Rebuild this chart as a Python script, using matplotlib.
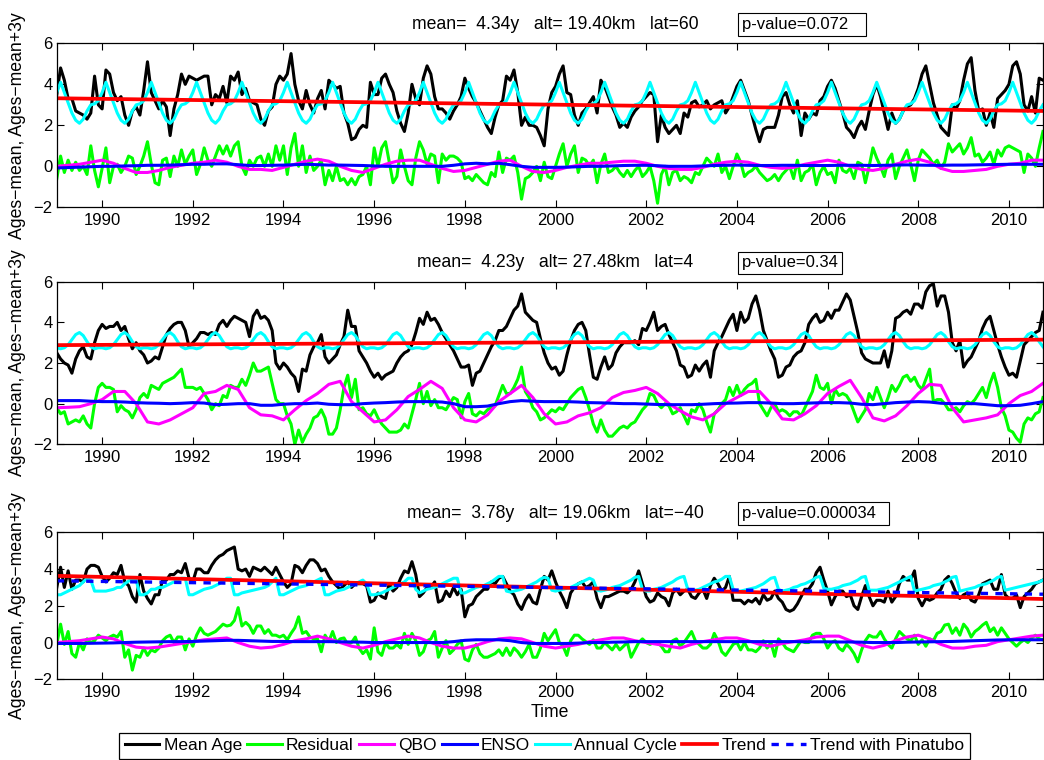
"""Mean age decomposition at three stations: mean age, residual, QBO, ENSO,
annual cycle and trend, 1989-2010. Values read off the reference figure.
"""

import numpy as np
import matplotlib
matplotlib.use("Agg")
import matplotlib.pyplot as plt

plt.rcParams["font.family"] = ["Liberation Sans", "DejaVu Sans"]
plt.rcParams["font.size"] = 12

START = 1989.0
END = 2010.75
YTICKS = [-2, 0, 2, 4, 6]
XTICKS = list(range(1990, 2011, 2))
LABELS = ["Mean Age", "Residual", "QBO", "ENSO", "Annual Cycle", "Trend", "Trend with Pinatubo"]

TITLES = [
    "mean=  4.34y   alt= 19.40km   lat=60",
    "mean=  4.23y   alt= 27.48km   lat=4",
    "mean=  3.78y   alt= 19.06km   lat=\u221240",
]
# trailing spaces mimic the fixed-width annotation boxes of the original
PVALUES = ["p-value=0.072   ", "p-value=0.34", "p-value=0.000034  "]

# ---- lat=60 (monthly rows, Jan..Dec) ----
AGE_LAT60 = [
    [3.5, 4.8, 4.2, 3.3, 3.3, 2.7, 2.6, 2.5, 2.3, 2.6, 4.4, 3.0],
    [2.8, 4.7, 4.5, 3.6, 3.2, 3.4, 2.5, 2.0, 2.7, 2.9, 2.5, 3.7],
    [5.1, 3.6, 3.2, 2.8, 3.2, 2.9, 1.5, 2.8, 3.5, 4.5, 4.0, 4.4],
    [4.3, 4.2, 4.3, 4.4, 4.4, 3.0, 3.5, 3.3, 3.9, 3.1, 4.4, 4.2],
    [4.6, 3.5, 3.8, 3.2, 3.1, 3.0, 2.3, 2.0, 2.7, 2.9, 4.0, 4.4],
    [4.2, 4.5, 5.5, 4.0, 3.2, 2.8, 3.7, 3.0, 2.6, 3.3, 3.7, 2.8],
    [4.2, 4.0, 3.8, 3.9, 2.6, 2.1, 1.3, 1.4, 1.8, 2.0, 1.9, 4.1],
    [3.5, 3.5, 4.3, 4.5, 4.0, 3.6, 2.7, 2.1, 1.7, 2.6, 4.0, 3.3],
    [3.0, 4.3, 4.9, 4.5, 3.4, 2.8, 2.8, 2.6, 2.3, 2.7, 3.0, 3.4],
    [4.3, 3.8, 3.4, 3.1, 2.7, 2.3, 1.9, 1.6, 2.4, 3.0, 3.2, 4.4],
    [4.2, 4.7, 3.6, 2.0, 2.4, 2.0, 2.0, 1.9, 1.5, 1.0, 2.8, 3.6],
    [3.9, 4.5, 4.9, 3.6, 3.5, 2.5, 2.0, 2.6, 2.8, 3.1, 3.4, 2.6],
    [4.2, 3.9, 3.4, 2.9, 2.5, 1.9, 2.1, 1.9, 2.4, 2.7, 2.9, 3.2],
    [3.4, 3.6, 3.5, 1.2, 2.5, 1.9, 1.6, 1.8, 2.0, 1.6, 2.6, 2.4],
    [3.1, 3.2, 2.9, 3.0, 3.2, 2.8, 3.0, 3.1, 3.2, 2.6, 2.9, 3.4],
    [3.9, 4.2, 3.7, 3.2, 2.5, 1.8, 1.2, 1.8, 1.9, 1.9, 1.9, 2.5],
    [3.4, 3.6, 3.0, 2.6, 3.2, 1.5, 2.6, 2.3, 2.6, 2.5, 3.2, 3.4],
    [3.9, 4.2, 3.8, 3.2, 2.6, 1.9, 1.7, 1.4, 1.9, 2.2, 1.8, 2.7],
    [3.5, 4.0, 3.4, 2.6, 1.8, 2.6, 2.1, 2.3, 2.7, 2.9, 3.0, 3.3],
    [3.8, 4.5, 4.9, 4.0, 3.1, 2.5, 1.9, 1.7, 1.5, 3.0, 2.8, 3.2],
    [4.2, 5.0, 5.3, 3.7, 2.7, 2.8, 2.0, 2.6, 1.9, 3.3, 3.5, 3.7],
    [4.0, 4.9, 5.1, 4.5, 3.0, 2.7, 3.4, 2.6, 4.3, 4.2],
]
RES_LAT60 = [
    [-0.6, 0.5, -0.3, 0.3, -0.2, 0.2, -0.2, 0.0, -0.4, 1.0, -0.2, -1.0],
    [-0.1, 0.9, -0.8, 0.0, 0.1, -0.3, 0.0, 0.5, 0.4, -0.4, 0.0, 0.5],
    [1.2, 0.1, -0.8, -0.9, 0.3, 0.4, -0.5, 0.5, 0.0, 0.8, 0.1, 0.5],
    [0.8, -0.4, 0.1, 0.9, 0.3, 0.0, 0.5, 1.0, 0.6, 1.0, 0.5, 1.0],
    [1.2, 0.0, -0.4, 0.3, 0.0, 0.4, 0.5, 0.0, 0.6, 0.0, 1.0, 0.3],
    [1.0, -0.4, 0.9, 1.6, 0.0, 1.0, -0.3, 0.5, -0.2, 0.0, 0.3, -0.9],
    [-0.2, -0.7, 0.0, -0.7, -0.6, -0.9, -0.6, -0.9, -0.5, -0.4, 0.0, -0.9],
    [0.9, 0.0, 0.9, 1.2, 0.2, -0.8, -0.5, 0.8, 0.0, -0.7, -0.9, 0.4],
    [1.2, 0.8, 0.1, 0.6, 0.5, -0.8, 0.6, 0.3, 0.5, 0.5, 0.4, 0.2],
    [-0.6, -0.5, -0.7, -0.4, -0.6, -0.8, -0.9, -0.3, -0.5, 0.7, -0.3, 0.4],
    [0.3, 0.5, -0.3, -1.6, -0.6, -0.5, -0.3, 0.0, -0.7, 0.2, -0.5, -0.6],
    [0.0, 0.6, 1.1, 0.0, 0.6, 1.0, -0.3, 0.4, 0.3, 0.0, 0.3, -0.8],
    [0.1, 0.6, -0.3, -0.2, 0.0, -0.3, -0.5, -0.2, -0.5, -0.2, 0.0, -0.5],
    [-0.3, 0.0, -0.7, -1.8, -0.4, 0.0, -0.9, -0.3, -0.2, -0.7, -0.5, -0.6],
    [-0.8, -0.3, -0.4, 0.0, 0.4, 0.2, 0.0, 0.6, -0.3, 0.0, -0.6, 0.0],
    [0.6, 0.2, -0.5, -0.3, -0.2, 0.0, -0.3, -0.5, -0.7, -0.6, -0.4, -0.7],
    [-0.4, -0.2, 0.0, -0.6, 0.3, -0.7, -0.3, -0.2, 0.1, -0.9, -0.3, 0.0],
    [-0.4, -0.3, -0.8, 0.3, -0.2, -0.3, -0.1, -0.6, 0.2, 0.1, -0.8, 0.0],
    [0.9, 0.4, 0.0, -0.5, 0.3, 0.6, -0.6, 0.0, 0.4, 0.8, 0.1, -0.7],
    [0.3, 0.8, 0.6, 0.4, 0.1, 0.3, -0.1, 0.2, 1.1, 0.7, 0.9, 1.1],
    [0.6, 0.9, 1.4, 0.5, 0.6, 0.2, 0.4, 0.7, 0.1, 0.8, 0.5, 0.9],
    [1.0, 0.9, 0.8, 0.7, -0.3, 0.6, 0.4, 0.0, 0.9, 1.7],
]
# quarterly (Jan, Apr, Jul, Oct)
QBO_LAT60 = [
    0.0, 0.05, 0.1, 0.2, 0.3, 0.15, -0.1, -0.3, -0.3, -0.2, -0.05, 0.05,
    0.15, 0.2, 0.3, 0.2, 0.0, -0.15, -0.15, -0.2, -0.05, 0.1, 0.25, 0.35,
    0.25, 0.0, -0.2, -0.3, -0.1, 0.1, 0.25, 0.3, 0.3, 0.1, -0.1, -0.25,
    -0.2, -0.05, 0.1, 0.25, 0.3, 0.0, -0.25, -0.3, -0.2, -0.05, 0.05, 0.15,
    0.15, 0.2, 0.25, 0.25, 0.15, 0.0, -0.1, -0.15, -0.15, -0.05, 0.1, 0.2,
    0.25, 0.2, 0.05, -0.05, -0.1, -0.05, 0.1, 0.2, 0.3, 0.2, 0.0, -0.15,
    -0.2, -0.1, 0.1, 0.25, 0.35, 0.2, -0.1, -0.25, -0.25, -0.2, -0.15, 0.0,
    0.1, 0.15, 0.3, 0.3,
]
ENSO_LAT60 = [
    -0.08, -0.06, -0.04, -0.02, 0.0, 0.0, 0.02, 0.03, 0.05, 0.05, 0.06, 0.08,
    0.1, 0.1, 0.12, 0.12, 0.08, 0.04, 0.04, 0.05, 0.06, 0.08, 0.1, 0.08,
    0.06, 0.06, 0.05, 0.04, 0.02, 0.0, 0.0, 0.0, 0.0, 0.0, 0.0, 0.05,
    0.12, 0.15, 0.12, 0.15, 0.08, 0.0, -0.05, -0.05, -0.05, -0.04, -0.02, 0.0,
    0.0, 0.02, 0.04, 0.05, 0.05, 0.03, 0.0, 0.0, 0.0, 0.02, 0.04, 0.05,
    0.06, 0.05, 0.04, 0.04, 0.05, 0.05, 0.04, 0.04, 0.04, 0.05, 0.05, 0.05,
    0.04, 0.05, 0.06, 0.07, 0.06, 0.05, 0.05, 0.06, 0.06, 0.07, 0.08, 0.09,
    0.1, 0.1, 0.1, 0.1,
]
CYCLE_LAT60 = [3.6, 4.1, 3.6, 3.1, 2.6, 2.25, 2.1, 2.3, 2.7, 3.0, 3.05, 3.2]
TREND_LAT60 = [3.32, 2.70]

# ---- lat=4 ----
AGE_LAT4 = [
    [2.5, 2.2, 2.0, 1.9, 1.5, 2.2, 2.6, 2.8, 2.3, 2.2, 3.0, 3.6],
    [3.9, 3.7, 3.8, 3.8, 4.0, 3.6, 3.8, 3.2, 2.7, 3.0, 2.6, 2.4],
    [2.0, 2.1, 2.3, 2.2, 2.8, 3.4, 3.7, 3.9, 4.0, 4.0, 3.6, 2.8],
    [3.0, 3.2, 3.5, 3.5, 3.4, 3.5, 3.4, 3.9, 4.1, 3.8, 4.1, 4.3],
    [4.2, 4.1, 4.0, 3.3, 4.3, 4.6, 4.2, 4.3, 4.1, 3.6, 2.0, 1.7],
    [2.0, 1.8, 1.5, 1.3, 0.6, 1.7, 1.6, 2.4, 2.8, 3.0, 3.4, 2.3],
    [2.0, 2.2, 2.4, 2.9, 3.3, 4.6, 3.8, 3.8, 2.6, 2.3, 2.0, 1.6],
    [1.3, 1.5, 1.2, 1.4, 1.5, 1.6, 2.0, 2.3, 2.5, 2.6, 2.9, 3.5],
    [4.2, 3.9, 4.5, 4.1, 4.2, 3.9, 3.5, 3.2, 2.9, 2.6, 2.2, 1.8],
    [1.8, 1.9, 0.9, 1.5, 1.6, 2.0, 2.4, 2.8, 3.1, 3.6, 3.6, 3.8],
    [4.2, 4.6, 4.8, 5.4, 4.5, 4.3, 4.1, 4.0, 3.2, 2.5, 2.0, 1.7],
    [1.8, 1.4, 1.6, 2.4, 3.1, 3.6, 3.9, 4.0, 3.6, 2.4, 1.3, 1.2],
    [1.8, 2.3, 1.7, 1.9, 2.5, 2.8, 3.0, 3.0, 3.0, 3.1, 2.9, 3.7],
    [3.6, 4.0, 4.5, 3.6, 3.8, 3.9, 3.4, 3.0, 2.6, 1.9, 1.8, 1.3],
    [1.4, 1.9, 1.6, 1.9, 2.1, 1.3, 2.6, 3.0, 3.3, 3.7, 4.1, 4.4],
    [3.6, 4.5, 4.0, 4.2, 4.9, 5.3, 4.6, 3.6, 3.1, 2.6, 2.2, 1.3],
    [1.4, 1.8, 1.9, 2.3, 2.5, 2.6, 3.0, 3.9, 4.2, 4.4, 4.0, 4.1],
    [4.5, 4.2, 4.6, 4.6, 5.0, 5.4, 5.1, 4.3, 3.5, 2.5, 2.2, 2.1],
    [2.0, 2.0, 2.0, 2.6, 1.8, 2.6, 4.2, 4.3, 4.5, 4.6, 4.4, 4.9],
    [4.9, 4.7, 5.5, 5.8, 5.9, 4.8, 5.3, 5.3, 4.5, 3.0, 2.6, 3.1],
    [1.8, 2.1, 2.3, 2.7, 3.1, 3.7, 4.1, 4.3, 3.6, 2.9, 2.3, 1.8],
    [1.4, 1.5, 1.3, 2.1, 2.9, 3.1, 3.3, 3.5, 3.6, 4.5],
]
RES_LAT4 = [
    [-0.2, -0.5, -0.4, -1.0, -0.9, -0.8, -0.9, -0.6, -1.0, -1.2, 0.0, 0.8],
    [1.0, 0.8, 0.8, 0.7, -0.4, -0.1, -0.3, -0.4, -0.7, -0.3, 0.3, 0.5],
    [0.3, 0.9, 0.8, 0.7, 1.0, 1.1, 1.2, 1.3, 1.5, 1.7, 0.8, 0.8],
    [0.8, 0.7, 0.8, 0.5, 0.2, -0.3, 0.0, -0.1, 0.4, 0.3, 0.9, 0.8],
    [0.8, 1.2, 0.9, 1.4, 2.0, 1.6, 1.6, 1.7, 1.8, 1.0, 0.2, 0.0],
    [0.0, -0.6, -1.0, -2.0, -1.3, -1.9, -1.5, -1.2, -0.7, -0.6, -0.3, -0.7],
    [-1.5, -1.5, -1.2, -0.3, 0.8, 1.4, 0.3, 1.2, -0.3, -0.2, -0.5, -0.6],
    [-0.3, -0.7, -1.0, -1.2, -1.4, -1.4, -1.4, -1.3, -1.0, -1.2, -0.5, 0.2],
    [1.0, 0.0, 0.6, -0.1, 0.2, -0.2, -0.2, -0.3, 0.0, 0.3, 0.2, -0.7],
    [0.1, 0.5, -0.5, -0.6, -0.4, -0.5, -0.3, -0.2, -0.1, 0.4, 0.9, 0.5],
    [0.5, 0.8, 1.2, 1.8, 0.6, 0.3, -0.2, -0.4, -0.8, -0.7, -0.5, -0.3],
    [-0.4, -0.2, -0.3, 0.0, 0.3, 0.5, 0.7, 0.8, 0.3, -0.3, -1.0, -1.4],
    [-0.8, -1.3, -1.6, -1.6, -1.4, -1.2, -1.1, -1.2, -1.0, -0.9, -0.6, -0.3],
    [-0.1, 0.5, 0.4, 0.0, -0.2, 0.0, -0.1, -0.5, -0.4, -0.2, -0.6, -1.0],
    [-0.3, -0.4, 0.0, -0.3, -0.9, -1.4, -0.5, -0.3, 0.0, 0.2, 0.8, 0.4],
    [0.9, 0.4, 0.7, 0.9, 1.0, 1.2, 0.0, -0.3, -0.6, -0.2, 0.0, -0.4],
    [-0.3, -0.4, -0.6, -0.4, -0.4, -0.6, -0.2, 0.2, 0.6, 1.4, 0.8, 0.7],
    [1.0, 0.0, 0.7, 0.4, 0.5, 0.4, 0.1, -0.4, -0.9, -0.6, -0.3, 0.5],
    [0.2, 0.8, 0.3, -0.2, 0.3, 0.9, 0.6, 0.9, 1.3, 1.4, 1.1, 1.3],
    [0.9, 0.7, 1.2, 1.7, 0.1, 0.2, 0.2, 0.0, -0.3, -0.3, -0.2, -0.4],
    [-0.1, 0.1, 0.0, 0.2, 0.5, 0.8, 0.3, 1.0, 1.5, 0.8, -0.2, -0.6],
    [-1.3, -1.4, -1.7, -1.9, -1.0, -0.7, -0.8, -0.5, -0.4, 0.3],
]
QBO_LAT4 = [
    -0.2, -0.18, -0.15, 0.0, 0.2, 0.6, 0.6, 0.0, -0.9, -1.0, -0.8, -0.5,
    -0.2, 0.5, 0.6, 0.9, 0.7, -0.2, -0.55, -0.6, -0.8, -0.3, 0.15, 0.5,
    0.95, 1.1, 0.1, -0.4, -0.9, -0.8, -0.3, 0.35, 0.7, 1.1, 0.75, -0.2,
    -0.8, -0.9, -0.55, 0.1, 0.5, 0.9, 0.3, -0.5, -1.0, -0.9, -0.6, -0.45,
    -0.2, 0.3, 0.55, 0.65, 0.8, 0.5, 0.0, -0.35, -0.65, -0.8, -0.5, 0.0,
    0.3, 0.6, 0.6, 0.0, -0.75, -0.8, -0.5, -0.1, 0.5, 0.85, 1.15, 0.3,
    -0.7, -0.85, -0.6, -0.1, 0.5, 0.95, 0.9, -0.2, -0.9, -0.8, -0.7, -0.55,
    0.0, 0.4, 0.6, 1.0,
]
ENSO_LAT4 = [
    0.15, 0.15, 0.15, 0.12, 0.1, 0.1, 0.08, 0.05, 0.03, 0.02, 0.0, 0.02,
    0.05, 0.03, -0.05, -0.03, 0.0, 0.0, -0.08, -0.08, -0.03, 0.0, 0.0, 0.03,
    -0.03, -0.05, -0.05, 0.0, 0.03, 0.05, 0.08, 0.1, 0.1, 0.1, 0.08, 0.0,
    -0.15, -0.15, -0.12, 0.0, 0.1, 0.15, 0.12, 0.1, 0.1, 0.1, 0.08, 0.05,
    0.04, 0.02, 0.0, 0.0, -0.02, -0.04, -0.05, -0.05, -0.05, -0.03, 0.0, 0.02,
    0.03, 0.05, 0.05, 0.03, 0.0, 0.0, 0.02, 0.04, 0.05, 0.05, 0.03, -0.03,
    -0.05, 0.0, 0.05, 0.08, 0.1, 0.08, 0.02, 0.0, 0.0, 0.0, -0.05, -0.1,
    -0.1, -0.08, 0.0, 0.1,
]
CYCLE_LAT4 = [2.75, 2.7, 2.75, 2.9, 3.15, 3.4, 3.5, 3.35, 3.05, 2.8, 2.7, 2.75]
TREND_LAT4 = [2.88, 3.15]

# ---- lat=-40 ----
AGE_LATM40 = [
    [3.0, 4.1, 3.0, 3.9, 2.9, 3.4, 3.4, 3.3, 4.0, 4.2, 4.2, 4.1],
    [3.6, 3.3, 3.5, 3.8, 3.7, 4.2, 3.3, 3.1, 2.5, 2.2, 3.7, 2.8],
    [2.4, 2.1, 2.6, 2.6, 3.4, 3.4, 3.7, 3.7, 3.9, 3.8, 4.3, 3.5],
    [3.3, 4.0, 4.0, 3.8, 3.8, 4.2, 4.5, 4.7, 4.8, 5.0, 5.1, 5.2],
    [4.0, 3.9, 4.0, 3.6, 4.1, 4.0, 3.9, 4.1, 3.9, 3.7, 4.1, 3.7],
    [3.3, 3.0, 3.2, 4.2, 4.1, 3.8, 4.2, 4.5, 4.5, 4.3, 3.9, 4.0],
    [3.6, 3.3, 3.1, 2.9, 3.1, 3.3, 3.0, 3.2, 3.2, 3.2, 3.1, 2.2],
    [2.3, 2.7, 2.5, 2.4, 3.2, 2.8, 3.0, 3.5, 3.9, 3.8, 4.4, 3.7],
    [2.5, 2.7, 3.0, 3.0, 3.3, 2.2, 2.3, 2.8, 2.5, 3.0, 2.6, 2.9],
    [1.4, 2.0, 2.1, 2.5, 2.7, 2.9, 2.9, 3.3, 3.2, 3.5, 3.6, 3.2],
    [2.8, 2.6, 2.1, 1.8, 2.3, 2.6, 2.2, 2.1, 2.9, 3.6, 3.4, 3.9],
    [3.3, 2.8, 2.4, 1.9, 2.7, 3.0, 3.2, 3.3, 3.0, 3.1, 3.3, 2.4],
    [1.9, 2.5, 2.5, 2.6, 2.7, 2.8, 2.8, 2.7, 2.9, 3.3, 3.9, 3.2],
    [2.5, 2.2, 2.3, 2.7, 2.5, 2.4, 2.0, 2.7, 2.9, 2.6, 2.8, 2.9],
    [2.5, 2.4, 2.7, 2.9, 2.4, 3.1, 3.5, 3.2, 2.8, 3.0, 3.6, 2.3],
    [2.3, 2.3, 2.1, 2.3, 2.2, 2.4, 2.1, 2.6, 2.3, 2.4, 2.8, 2.4],
    [2.2, 1.8, 1.7, 1.8, 2.1, 2.5, 2.9, 2.9, 3.2, 3.8, 4.1, 3.4],
    [2.8, 2.05, 2.5, 2.8, 2.8, 2.5, 2.6, 2.0, 1.8, 2.5, 3.1, 2.5],
    [2.0, 2.3, 2.3, 2.2, 2.8, 2.2, 2.5, 3.2, 3.6, 3.4, 3.4, 3.9],
    [2.4, 2.0, 2.4, 2.3, 2.4, 2.7, 2.9, 3.4, 3.6, 3.2, 2.7, 2.4],
    [2.6, 2.7, 2.3, 2.2, 2.6, 3.2, 3.3, 3.4, 2.9, 2.9, 3.7, 2.6],
    [2.4, 2.4, 2.6, 1.9, 2.5, 2.7, 2.9, 3.2, 3.3, 3.4],
]
RES_LATM40 = [
    [-0.1, 1.0, -0.1, 0.6, -0.6, -0.8, 0.0, -0.4, 0.2, 0.0, 0.1, 0.4],
    [0.25, 0.1, 0.3, 0.4, 0.3, 0.6, -0.8, -0.4, -1.5, -0.7, -0.8, -0.3],
    [-0.7, -0.4, -0.5, -0.3, 0.1, 0.3, 0.4, 0.0, 0.3, 0.3, -0.4, 0.2],
    [-0.2, 0.4, 0.8, 0.5, 0.4, 0.5, 0.6, 0.8, 1.0, 0.9, 0.95, 1.2],
    [1.9, 0.9, 1.1, 0.9, 0.5, 0.9, 0.9, 0.5, 0.7, 0.4, 0.4, 0.3],
    [0.4, 0.15, 0.5, 0.8, 1.4, 0.5, 0.6, 0.3, 0.2, 0.2, -0.5, 0.4],
    [0.05, 0.6, 0.0, 0.2, 0.25, -0.1, 0.0, 0.3, -0.3, -0.6, -0.4, -0.9],
    [0.8, -0.5, -0.7, 0.0, -0.3, -0.3, -0.1, -0.3, 0.5, -0.1, 0.5, 0.1],
    [-0.7, -0.5, 0.1, 0.2, 0.6, -0.8, -0.3, 0.1, -0.6, -0.4, -0.1, 0.1],
    [-0.9, -1.0, -0.4, -0.1, -0.6, -0.8, -0.8, -0.7, -0.6, -0.4, -0.7, -0.3],
    [-0.7, -0.3, -0.5, -0.8, -0.5, -0.1, -0.8, -0.8, -0.3, 0.5, 0.1, 0.4],
    [0.7, 0.0, -0.2, -0.7, 0.1, 0.4, 0.4, 0.2, 0.05, -0.1, 0.15, -0.3],
    [-0.3, 0.0, -0.2, -0.4, -0.1, -0.4, -0.2, 0.0, -0.8, -0.4, 0.0, 0.2],
    [0.0, -0.1, 0.0, 0.0, -0.2, -0.5, -0.5, 0.1, 0.2, -0.2, 0.0, 0.3],
    [0.6, 0.1, -0.1, -0.3, -0.3, -0.1, 0.5, 0.1, -0.5, -0.7, -0.4, -0.1],
    [0.0, -0.4, 0.0, -0.4, -0.4, -0.5, -0.3, 0.1, -0.3, 0.0, -0.75, 0.2],
    [0.0, -0.3, -0.4, -0.5, -0.2, 0.1, 0.0, 0.0, 0.4, 0.5, 0.5, 0.2],
    [-0.3, 0.0, 0.1, -0.3, -0.45, -0.1, -0.3, -0.6, -1.05, -0.4, 0.1, 0.4],
    [0.3, 0.3, 0.6, 0.2, -0.1, -0.3, 0.2, 0.6, 0.4, 0.2, 0.1, 0.4],
    [-0.1, 0.15, -0.2, 0.2, 0.1, 0.5, 0.6, 0.95, 1.0, 0.5, 0.8, 0.4],
    [1.0, 0.75, 0.3, 0.6, 0.75, 0.95, 1.1, 0.6, 0.8, 0.4, 0.8, 0.5],
    [0.2, 0.0, -0.2, 0.0, 0.15, 0.0, 0.25, 0.4, 0.2, 0.15],
]
QBO_LATM40 = [
    0.0, 0.05, 0.1, 0.2, 0.3, 0.2, -0.05, -0.25, -0.3, -0.25, -0.15, -0.05,
    0.05, 0.15, 0.2, 0.25, 0.0, -0.2, -0.3, -0.25, -0.1, 0.1, 0.2, 0.35,
    0.2, 0.0, -0.2, -0.3, -0.15, 0.05, 0.2, 0.35, 0.25, 0.0, -0.2, -0.3,
    -0.3, -0.15, 0.05, 0.2, 0.25, 0.2, 0.0, -0.2, -0.3, -0.2, -0.1, 0.05,
    0.15, 0.25, 0.25, 0.1, 0.0, -0.1, -0.2, -0.3, -0.1, 0.05, 0.15, 0.25,
    0.25, 0.1, -0.1, -0.2, -0.05, 0.05, 0.15, 0.3, 0.35, 0.35, 0.1, -0.15,
    -0.3, -0.15, 0.1, 0.3, 0.4, 0.2, -0.1, -0.3, -0.3, -0.2, -0.15, 0.05,
    0.15, 0.25, 0.35, 0.4,
]
ENSO_LATM40 = [
    -0.05, -0.05, -0.05, -0.04, -0.03, -0.02, 0.0, 0.02, 0.03, 0.04, 0.05, 0.05,
    0.06, 0.08, 0.1, 0.12, 0.12, 0.1, 0.08, 0.06, 0.06, 0.05, 0.05, 0.05,
    0.05, 0.04, 0.03, 0.02, 0.0, 0.0, 0.0, 0.0, 0.0, 0.0, 0.0, 0.05,
    0.12, 0.15, 0.15, 0.15, 0.1, 0.0, -0.05, -0.05, -0.05, -0.05, -0.03, 0.0,
    0.0, 0.02, 0.03, 0.05, 0.05, 0.05, 0.05, 0.05, 0.05, 0.05, 0.05, 0.05,
    0.05, 0.05, 0.05, 0.05, 0.05, 0.05, 0.04, 0.04, 0.04, 0.03, 0.03, 0.02,
    0.0, 0.0, 0.0, 0.02, 0.03, 0.04, 0.05, 0.06, 0.08, 0.1, 0.12, 0.14,
    0.15, 0.15, 0.15, 0.15,
]
CYCLE_LATM40 = [
    [2.6, 2.6, 2.7, 2.8, 2.9, 3.0, 3.1, 3.3, 3.5, 3.4, 2.8, 2.8],
    [2.8, 2.8, 2.85, 2.9, 3.0, 3.0, 3.2, 3.35, 3.4, 3.4, 2.6, 2.6],
    [2.7, 2.9, 2.9, 3.0, 3.0, 3.1, 3.2, 3.3, 3.4, 3.5, 3.5, 2.6],
    [2.6, 2.7, 2.8, 2.9, 2.95, 3.0, 3.1, 3.2, 3.35, 3.5, 3.5, 2.6],
    [2.6, 2.7, 2.75, 2.8, 2.85, 2.9, 2.95, 3.0, 3.1, 3.3, 3.5, 2.6],
    [2.6, 2.7, 2.8, 2.9, 3.0, 3.05, 3.1, 3.2, 3.3, 3.4, 3.5, 2.6],
    [2.6, 2.7, 2.8, 2.85, 2.9, 3.0, 3.1, 3.2, 3.3, 3.4, 3.2, 2.6],
    [2.6, 2.65, 2.7, 2.8, 2.9, 3.0, 3.1, 3.2, 3.3, 3.5, 3.5, 2.9],
    [2.7, 2.8, 2.9, 2.95, 3.0, 3.1, 3.2, 3.3, 3.4, 3.5, 3.5, 2.7],
    [2.7, 2.8, 2.9, 3.0, 3.05, 3.1, 3.2, 3.3, 3.45, 3.6, 3.6, 2.8],
    [2.75, 2.8, 2.85, 2.9, 3.0, 3.1, 3.2, 3.3, 3.45, 3.55, 3.5, 2.85],
    [2.8, 2.85, 2.9, 2.95, 3.0, 3.1, 3.2, 3.3, 3.4, 3.5, 3.4, 2.85],
    [2.8, 2.85, 2.9, 3.0, 3.05, 3.1, 3.2, 3.3, 3.4, 3.55, 3.6, 2.9],
    [2.8, 2.8, 2.9, 2.95, 3.0, 3.1, 3.2, 3.3, 3.45, 3.55, 3.6, 2.9],
    [2.8, 2.85, 2.9, 3.0, 3.1, 3.2, 3.3, 3.35, 3.45, 3.6, 3.6, 2.9],
    [2.8, 2.8, 2.85, 2.9, 2.95, 3.0, 3.1, 3.2, 3.35, 3.5, 3.55, 2.9],
    [2.8, 2.85, 2.9, 3.0, 3.05, 3.15, 3.2, 3.3, 3.4, 3.55, 3.6, 2.95],
    [2.9, 2.9, 2.95, 3.0, 3.1, 3.15, 3.2, 3.3, 3.4, 3.55, 3.6, 2.85],
    [2.85, 2.85, 2.9, 2.95, 3.0, 3.1, 3.2, 3.3, 3.4, 3.5, 3.6, 2.8],
    [2.85, 2.9, 2.95, 3.0, 3.1, 3.15, 3.2, 3.3, 3.4, 3.55, 3.6, 2.8],
    [2.85, 2.9, 2.95, 3.0, 3.1, 3.15, 3.2, 3.3, 3.4, 3.55, 3.6, 2.85],
    [2.9, 2.95, 3.0, 3.05, 3.1, 3.15, 3.2, 3.25, 3.3, 3.4],
]
TREND_LATM40 = [3.63, 2.37]
PINATUBO_LATM40 = [3.36, 2.63]

COLORS = {"age": "k", "res": "#00ff00", "qbo": "#ff00ff", "enso": "#0000ff",
          "cycle": "#00ffff", "trend": "#ff0000"}
TEXT_SIZE = 12.7


def monthly(rows):
    v = np.concatenate([np.asarray(r, float) for r in rows])
    return START + np.arange(len(v)) / 12.0, v


def quarterly(vals):
    v = np.asarray(vals, float)
    return START + np.arange(len(v)) * 0.25, v


def draw_panel(ax, age, res, qbo, enso, cycle, trend, title, pval, pinatubo=None):
    t, a = monthly(age)
    ax.plot(t, a, color=COLORS["age"], lw=2.2)
    t, r = monthly(res)
    ax.plot(t, r, color=COLORS["res"], lw=2.2)
    t, q = quarterly(qbo)
    ax.plot(t, q, color=COLORS["qbo"], lw=2.2)
    t, e = quarterly(enso)
    ax.plot(t, e, color=COLORS["enso"], lw=2.2)
    if isinstance(cycle[0], list):
        t, c = monthly(cycle)
    else:
        # the fitted annual cycle repeats the same 12 monthly values every year
        c = np.tile(cycle, 22)[:len(a)]
        t = START + np.arange(len(c)) / 12.0
    ax.plot(t, c, color=COLORS["cycle"], lw=2.2)
    ax.plot([START, END], trend, color=COLORS["trend"], lw=2.7)
    if pinatubo is not None:
        ax.plot([START, END], pinatubo, color=COLORS["enso"], lw=2.4, ls=(0, (2.2, 2.2)))

    ax.set_xlim(START, END)
    ax.set_ylim(-2, 6)
    ax.set_xticks(XTICKS)
    ax.set_yticks(YTICKS)
    ax.tick_params(direction="in", top=True, right=True, length=5, width=0.8, pad=4,
                   labelsize=12)
    ax.tick_params(axis="y", pad=3)
    for s in ax.spines.values():
        s.set_linewidth(0.9)
    ax.set_ylabel("Ages\u2212mean, Ages\u2212mean+3y", fontsize=TEXT_SIZE)
    ax.yaxis.set_label_coords(-0.031, 0.5)

    ax.annotate(title, xy=(0.5, 1), xycoords="axes fraction", xytext=(4, 13.5),
                textcoords="offset points", ha="center", va="center", fontsize=TEXT_SIZE)
    ax.annotate(pval, xy=(2004.0, 1), xycoords=("data", "axes fraction"),
                xytext=(3.5, 13.5), textcoords="offset points", ha="left", va="center",
                fontsize=12,
                bbox=dict(boxstyle="square,pad=0.22", fc="white", ec="k", lw=0.8))


def main():
    fig = plt.figure(figsize=(10.44, 7.6), dpi=100)
    ax1 = fig.add_axes([0.0544, 0.7272, 0.9446, 0.2158])
    ax2 = fig.add_axes([0.0544, 0.4154, 0.9446, 0.2139])
    ax3 = fig.add_axes([0.0544, 0.1062, 0.9446, 0.1934])

    draw_panel(ax1, AGE_LAT60, RES_LAT60, QBO_LAT60, ENSO_LAT60, CYCLE_LAT60,
               TREND_LAT60, TITLES[0], PVALUES[0])
    draw_panel(ax2, AGE_LAT4, RES_LAT4, QBO_LAT4, ENSO_LAT4, CYCLE_LAT4,
               TREND_LAT4, TITLES[1], PVALUES[1])
    draw_panel(ax3, AGE_LATM40, RES_LATM40, QBO_LATM40, ENSO_LATM40, CYCLE_LATM40,
               TREND_LATM40, TITLES[2], PVALUES[2], pinatubo=PINATUBO_LATM40)
    ax3.set_xlabel("Time", fontsize=TEXT_SIZE, labelpad=3)

    handles = ax3.get_lines()
    leg = fig.legend(handles, LABELS, loc="upper center", bbox_to_anchor=(0.5216, 0.0355),
                     ncol=7, fontsize=12.5, frameon=True, fancybox=False, edgecolor="k",
                     framealpha=1, handlelength=2.0, handletextpad=0.25,
                     columnspacing=0.3, borderpad=0.3, borderaxespad=0)
    leg.get_frame().set_linewidth(0.9)

    fig.savefig("out.png", dpi=100)
    plt.close(fig)


if __name__ == "__main__":
    main()
